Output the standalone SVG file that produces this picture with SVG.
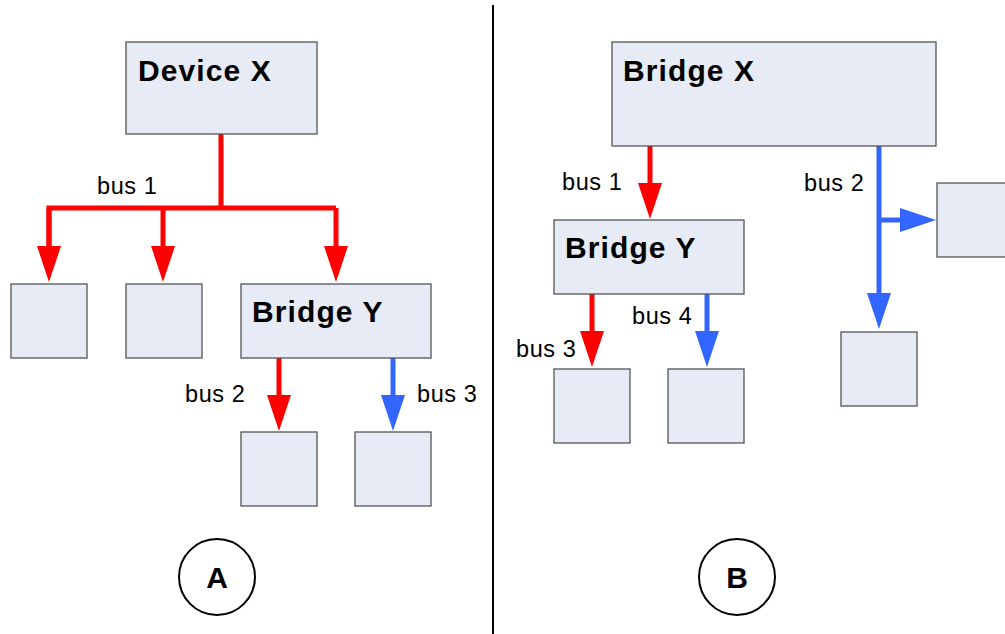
<svg xmlns="http://www.w3.org/2000/svg" width="1005" height="634" viewBox="0 0 1005 634">
<style>
.box{fill:#E6EBF5;stroke:#555;stroke-width:1.3}
.title{font-family:"Liberation Sans",Arial,sans-serif;font-weight:bold;font-size:30px;letter-spacing:1.1px;fill:#000}
.lbl{font-family:"Liberation Sans",Arial,sans-serif;font-size:23.5px;letter-spacing:0.6px;fill:#000}
.red{stroke:#FF0000;stroke-width:5;fill:none}
.blue{stroke:#3366FF;stroke-width:5;fill:none}
.circ{fill:#fff;stroke:#000;stroke-width:2}
</style>
<defs>
<marker id="ar" markerUnits="userSpaceOnUse" markerWidth="36" markerHeight="24" refX="1" refY="12" orient="auto"><path d="M0,0 L36,12 L0,24 Z" fill="#FF0000"/></marker>
<marker id="ab" markerUnits="userSpaceOnUse" markerWidth="36" markerHeight="24" refX="1" refY="12" orient="auto"><path d="M0,0 L36,12 L0,24 Z" fill="#3366FF"/></marker>
</defs>
<rect width="1005" height="634" fill="#fff"/>
<line x1="493" y1="5" x2="493" y2="634" stroke="#000" stroke-width="2"/>
<g id="connectors">
<path class="red" d="M221,134 V208"/>
<path class="red" d="M49,247 V208 H336"/>
<path class="red" d="M49,208 V247" marker-end="url(#ar)"/>
<path class="red" d="M163,208 V247" marker-end="url(#ar)"/>
<path class="red" d="M336,208 V247" marker-end="url(#ar)"/>
<path class="red" d="M279,358 V396" marker-end="url(#ar)"/>
<path class="blue" d="M393,358 V396" marker-end="url(#ab)"/>
<path class="red" d="M650,146 V184" marker-end="url(#ar)"/>
<path class="red" d="M592,294 V332" marker-end="url(#ar)"/>
<path class="blue" d="M707,294 V332" marker-end="url(#ab)"/>
<path class="blue" d="M879,146 V294" marker-end="url(#ab)"/>
<path class="blue" d="M877,220 H901" marker-end="url(#ab)"/>
</g>
<g id="deviceX"><rect class="box" x="126" y="42" width="191" height="92"/><text class="title" x="138" y="81">Device X</text></g>
<g id="a-box1"><rect class="box" x="11" y="284" width="76" height="74"/></g>
<g id="a-box2"><rect class="box" x="126" y="284" width="76" height="74"/></g>
<g id="a-bridgeY"><rect class="box" x="241" y="284" width="190" height="74"/><text class="title" x="252" y="322">Bridge Y</text></g>
<g id="a-box3"><rect class="box" x="241" y="432" width="76" height="74"/></g>
<g id="a-box4"><rect class="box" x="355" y="432" width="76" height="74"/></g>
<g id="bridgeX"><rect class="box" x="612" y="42" width="324" height="104"/><text class="title" x="623" y="81">Bridge X</text></g>
<g id="b-bridgeY"><rect class="box" x="554" y="220" width="190" height="74"/><text class="title" x="565" y="258">Bridge Y</text></g>
<g id="b-box1"><rect class="box" x="554" y="369" width="76" height="74"/></g>
<g id="b-box2"><rect class="box" x="668" y="369" width="76" height="74"/></g>
<g id="b-box3"><rect class="box" x="937" y="183" width="76" height="74"/></g>
<g id="b-box4"><rect class="box" x="841" y="332" width="76" height="74"/></g>
<g id="labels">
<text class="lbl" x="97" y="194">bus 1</text>
<text class="lbl" x="185" y="402">bus 2</text>
<text class="lbl" x="417" y="402">bus 3</text>
<text class="lbl" x="562" y="190">bus 1</text>
<text class="lbl" x="632" y="324">bus 4</text>
<text class="lbl" x="516" y="357">bus 3</text>
<text class="lbl" x="804" y="191">bus 2</text>
</g>
<g id="circleA"><circle class="circ" cx="217" cy="577" r="38"/><text class="title" x="217" y="588" text-anchor="middle" style="letter-spacing:0">A</text></g>
<g id="circleB"><circle class="circ" cx="737" cy="577" r="38"/><text class="title" x="737" y="588" text-anchor="middle" style="letter-spacing:0">B</text></g>
</svg>
